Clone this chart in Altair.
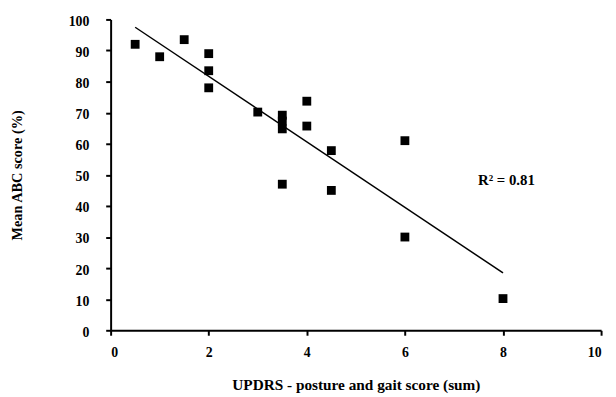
import altair as alt
import pandas as pd

updrs = [0.5, 1, 1.5, 2, 2, 2, 3, 3.5, 3.5, 3.5, 3.5, 4, 4, 4.5, 4.5, 6, 6, 8]
abc = [92, 88, 93.5, 89, 83.5, 78, 70.2, 69.2, 67.3, 64.8, 47, 73.7, 65.7, 57.8, 45, 61, 30, 10.2]
x_ticks = [0, 2, 4, 6, 8, 10]
y_ticks = [0, 10, 20, 30, 40, 50, 60, 70, 80, 90, 100]
label_text = ["R\u00b2 = 0.81"]
label_x = [8.07]
label_y = [48.3]

df = pd.DataFrame({"x": updrs, "y": abc})
lab = pd.DataFrame({"x": label_x, "y": label_y, "t": label_text})

FONT = "Liberation Serif"

xs = alt.Scale(domain=[0, 10], nice=False, zero=True)
ys = alt.Scale(domain=[0, 100], nice=False)

x_axis = alt.Axis(values=x_ticks, title="UPDRS - posture and gait score (sum)", grid=False,
                  titleY=55, titleBaseline="middle", labelPadding=11, titleFontSize=15.5,
                  labelOverlap=False)
y_axis = alt.Axis(values=y_ticks, title="Mean ABC score (%)", grid=False,
                  titleX=-94, titleY=157.5, titleAngle=-90, titleBaseline="middle",
                  titleAlign="center", labelPadding=17, titleFontSize=14.5,
                  labelOverlap=False, labelBaseline="top", labelOffset=-5)

line = alt.Chart(df).transform_regression("x", "y").mark_line(color="black", strokeWidth=1.5).encode(
    x=alt.X("x:Q", scale=xs, axis=x_axis),
    y=alt.Y("y:Q", scale=ys, axis=y_axis),
)

pts = alt.Chart(df).mark_square(size=80, color="black", opacity=1).encode(
    x=alt.X("x:Q", scale=xs, axis=x_axis),
    y=alt.Y("y:Q", scale=ys, axis=y_axis),
)

txt = alt.Chart(lab).mark_text(font=FONT, fontWeight="bold", fontSize=15, color="black").encode(
    x=alt.X("x:Q", scale=xs, axis=x_axis),
    y=alt.Y("y:Q", scale=ys, axis=y_axis),
    text="t:N",
)

chart = alt.layer(line, pts, txt).properties(
    width=497, height=315,
    autosize=alt.AutoSizeParams(type="none"),
    padding={"left": 104, "top": 9, "right": 7, "bottom": 65},
).configure(background="white").configure_view(stroke=None).configure_axis(
    domainColor="black", domainWidth=2, tickColor="black", tickWidth=2, tickSize=5,
    labelFont=FONT, labelFontWeight="bold", labelFontSize=14, labelColor="black",
    titleFont=FONT, titleFontWeight="bold", titleFontSize=14, titleColor="black",
)

chart.save("out.html", embed_options={"renderer": "svg", "actions": False})
